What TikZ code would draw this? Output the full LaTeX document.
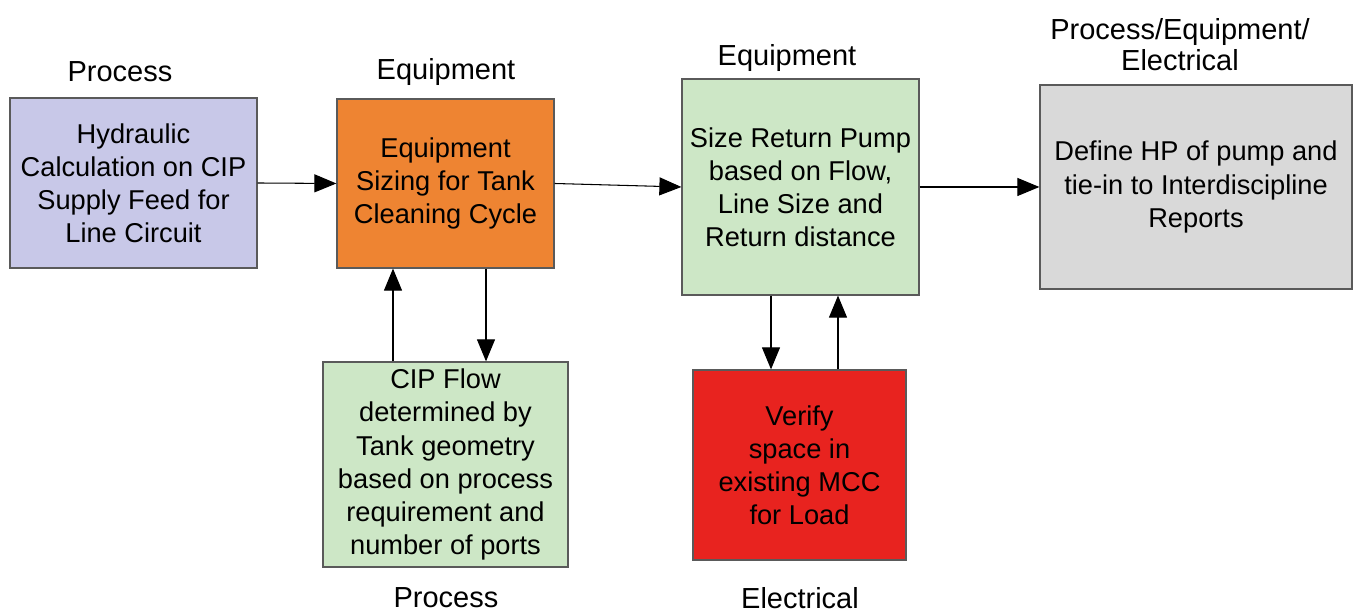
\documentclass[tikz,border=0pt]{standalone}
\usepackage{fontspec}
\setmainfont{Liberation Sans}
\usepackage{tikz}
\usetikzlibrary{arrows.meta}
\definecolor{CIPLav}{HTML}{C8C8E8}
\definecolor{CIPOrange}{HTML}{EE8432}
\definecolor{CIPGreen}{HTML}{CDE7C6}
\definecolor{CIPGray}{HTML}{D9D9D9}
\definecolor{CIPRed}{HTML}{E8231F}
\definecolor{CIPLine}{HTML}{5A5A5A}

\begin{document}
\begin{tikzpicture}[x=1cm,y=1cm,>={Triangle[length=0.44cm,width=0.36cm]},
  stepbox/.style={draw=CIPLine,line width=0.7pt,align=center,inner sep=2pt,
    font=\fontsize{15.5}{18.8}\selectfont},
  grouplbl/.style={font=\fontsize{16.5}{20}\selectfont,align=center},
  flow/.style={->,line width=0.6pt,color=black}]
  \useasboundingbox (0,0) rectangle (27.12,12.28);
  % boxes
  \node[stepbox,fill=CIPLav,minimum width=4.94cm,minimum height=3.4cm] (hydcalc) at (2.67,8.62)
    {Hydraulic\\Calculation on CIP\\Supply Feed for\\Line Circuit};
  \node[stepbox,fill=CIPOrange,minimum width=4.34cm,minimum height=3.38cm] (eqsize) at (8.91,8.61)
    {Equipment\\Sizing for Tank\\Cleaning Cycle};
  \node[stepbox,fill=CIPGreen,minimum width=4.74cm,minimum height=4.32cm] (pumpsize) at (16.01,8.54)
    {Size Return Pump\\based on Flow,\\Line Size and\\Return distance};
  \node[stepbox,fill=CIPGray,minimum width=6.24cm,minimum height=4.08cm] (hpdef) at (23.92,8.54)
    {Define HP of pump and\\tie-in to Interdiscipline\\Reports};
  \node[stepbox,fill=CIPGreen,minimum width=4.9cm,minimum height=4.1cm] (cipflow) at (8.91,2.99)
    {CIP Flow\\determined by\\Tank geometry\\based on process\\requirement and\\number of ports};
  \node[stepbox,fill=CIPRed,minimum width=4.26cm,minimum height=3.8cm] (mccspace) at (15.99,2.98)
    {Verify\\space in\\existing MCC\\for Load};
  % discipline labels
  \node[grouplbl] (lblproc) at (2.40,10.84) {Process};
  \node[grouplbl] (lbleqa) at (8.92,10.84) {Equipment};
  \node[grouplbl] (lbleqb) at (15.74,11.12) {Equipment};
  \node[grouplbl,font=\fontsize{16.5}{17.5}\selectfont] (lblall) at (23.6,11.38) {Process/Equipment/\\Electrical};
  \node[grouplbl] (lblprocb) at (8.92,0.32) {Process};
  \node[grouplbl] (lblelec) at (16.0,0.32) {Electrical};
  % connectors
  \draw[flow] (hydcalc.east) -- (eqsize.west);
  \draw[flow] (eqsize.east) -- (pumpsize.west);
  \draw[flow] (pumpsize.east) -- (hpdef.west);
  \draw[flow] ([xshift=-1.05cm]cipflow.north) -- ([xshift=-1.05cm]cipflow.north |- eqsize.south);
  \draw[flow] ([xshift=0.81cm]eqsize.south) -- ([xshift=0.81cm]eqsize.south |- cipflow.north);
  \draw[flow] ([xshift=-0.59cm]pumpsize.south) -- ([xshift=-0.59cm]pumpsize.south |- mccspace.north);
  \draw[flow] ([xshift=0.77cm]mccspace.north) -- ([xshift=0.77cm]mccspace.north |- pumpsize.south);
\end{tikzpicture}
\end{document}
